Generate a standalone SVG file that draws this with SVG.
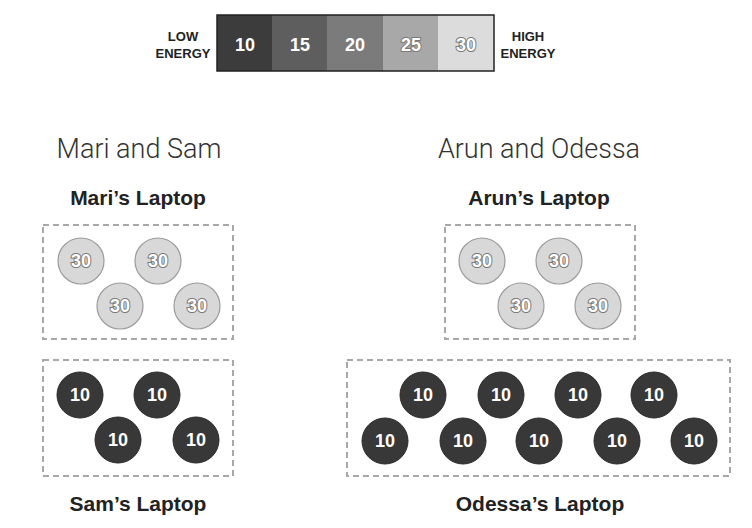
<svg xmlns="http://www.w3.org/2000/svg" width="752" height="528" viewBox="0 0 752 528">
<style>
.bg{fill:#fff}
.lbl{font-family:"Liberation Sans",Arial,sans-serif;font-weight:bold;font-size:13px;fill:#222;text-anchor:middle}
.num{font-family:"Liberation Sans",Arial,sans-serif;font-weight:bold;font-size:18px;fill:#fff;text-anchor:middle}
.numo{font-family:"Liberation Sans",Arial,sans-serif;font-weight:bold;font-size:18px;fill:#fff;stroke:#7a7a7a;stroke-width:2px;paint-order:stroke;text-anchor:middle}
.title{font-family:Roboto,"Liberation Sans",sans-serif;font-weight:300;font-size:27px;fill:#333;text-anchor:middle}
.sub{font-family:"Liberation Sans",Arial,sans-serif;font-weight:bold;font-size:21px;fill:#222;text-anchor:middle}
.box{fill:none;stroke:#a8a8a8;stroke-width:2;stroke-dasharray:6 4}
.hi{fill:#d8d8d8;stroke:#9c9c9c;stroke-width:1.2}
.lo{fill:#383838;stroke:#2a2a2a;stroke-width:1}
</style>
<rect class="bg" x="0" y="0" width="752" height="528"/>

<g id="legend">
  <rect x="217" y="15" width="56" height="56" fill="#3c3c3c"/>
  <rect x="272" y="15" width="56" height="56" fill="#5e5e5e"/>
  <rect x="327" y="15" width="56" height="56" fill="#7b7b7b"/>
  <rect x="383" y="15" width="56" height="56" fill="#a8a8a8"/>
  <rect x="438" y="15" width="56" height="56" fill="#dcdcdc"/>
  <rect x="217" y="15" width="277" height="56" fill="none" stroke="#222" stroke-width="1.5"/>
  <text class="num" x="245" y="51">10</text>
  <text class="num" x="300" y="51">15</text>
  <text class="num" x="355" y="51">20</text>
  <text class="numo" x="411" y="51">25</text>
  <text class="numo" x="466" y="51">30</text>
  <text class="lbl" x="183" y="41">LOW</text>
  <text class="lbl" x="183" y="58">ENERGY</text>
  <text class="lbl" x="528" y="41">HIGH</text>
  <text class="lbl" x="528" y="58">ENERGY</text>
</g>

<text class="title" x="139" y="158">Mari and Sam</text>
<text class="title" x="539" y="158">Arun and Odessa</text>

<g id="maris-laptop">
  <text class="sub" x="138" y="205">Mari’s Laptop</text>
  <rect class="box" x="43" y="225" width="190" height="114"/>
  <circle class="hi" cx="81" cy="261" r="23"/><text class="numo" x="81" y="267">30</text>
  <circle class="hi" cx="158" cy="261" r="23"/><text class="numo" x="158" y="267">30</text>
  <circle class="hi" cx="120" cy="306" r="23"/><text class="numo" x="120" y="312">30</text>
  <circle class="hi" cx="197" cy="306" r="23"/><text class="numo" x="197" y="312">30</text>
</g>

<g id="sams-laptop">
  <rect class="box" x="43" y="360" width="190" height="116"/>
  <circle class="lo" cx="80" cy="395" r="23"/><text class="num" x="80" y="401">10</text>
  <circle class="lo" cx="157" cy="395" r="23"/><text class="num" x="157" y="401">10</text>
  <circle class="lo" cx="118" cy="440" r="23"/><text class="num" x="118" y="446">10</text>
  <circle class="lo" cx="196" cy="440" r="23"/><text class="num" x="196" y="446">10</text>
  <text class="sub" x="138" y="511">Sam’s Laptop</text>
</g>

<g id="aruns-laptop">
  <text class="sub" x="539" y="205">Arun’s Laptop</text>
  <rect class="box" x="445" y="225" width="190" height="114"/>
  <circle class="hi" cx="482" cy="261" r="23"/><text class="numo" x="482" y="267">30</text>
  <circle class="hi" cx="559" cy="261" r="23"/><text class="numo" x="559" y="267">30</text>
  <circle class="hi" cx="521" cy="306" r="23"/><text class="numo" x="521" y="312">30</text>
  <circle class="hi" cx="598" cy="306" r="23"/><text class="numo" x="598" y="312">30</text>
</g>

<g id="odessas-laptop">
  <rect class="box" x="347" y="360" width="383" height="116"/>
  <circle class="lo" cx="423" cy="395" r="23"/><text class="num" x="423" y="401">10</text>
  <circle class="lo" cx="501" cy="395" r="23"/><text class="num" x="501" y="401">10</text>
  <circle class="lo" cx="578" cy="395" r="23"/><text class="num" x="578" y="401">10</text>
  <circle class="lo" cx="654" cy="395" r="23"/><text class="num" x="654" y="401">10</text>
  <circle class="lo" cx="385" cy="441" r="23"/><text class="num" x="385" y="447">10</text>
  <circle class="lo" cx="463" cy="441" r="23"/><text class="num" x="463" y="447">10</text>
  <circle class="lo" cx="539" cy="441" r="23"/><text class="num" x="539" y="447">10</text>
  <circle class="lo" cx="617" cy="441" r="23"/><text class="num" x="617" y="447">10</text>
  <circle class="lo" cx="694" cy="441" r="23"/><text class="num" x="694" y="447">10</text>
  <text class="sub" x="540" y="511">Odessa’s Laptop</text>
</g>

<g id="connectors"></g>
</svg>
